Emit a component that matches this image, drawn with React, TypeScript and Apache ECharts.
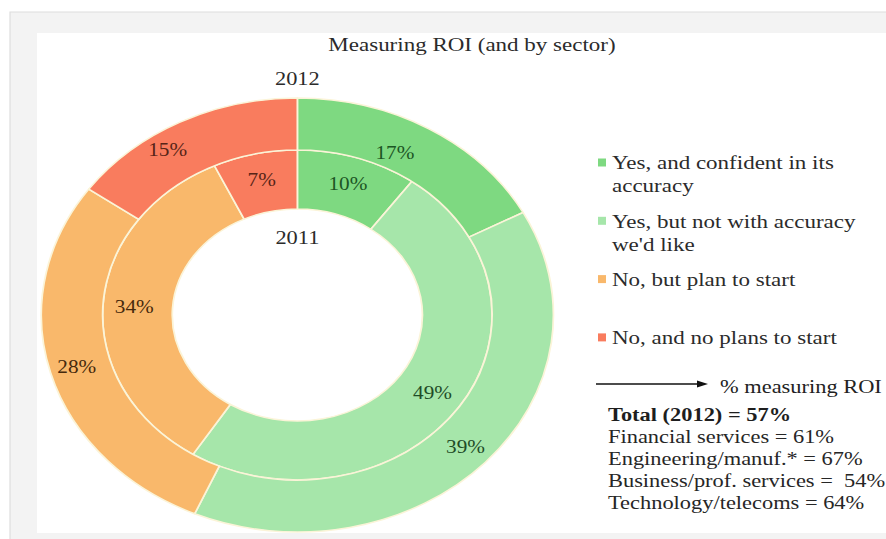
import React, { useEffect, useRef } from "react";
import * as echarts from "echarts";

// ---- data ----
const categories = [
  "Yes, and confident in its accuracy",
  "Yes, but not with accuracy we'd like",
  "No, but plan to start",
  "No, and no plans to start",
];
const legendLines = [
  ["Yes, and confident in its", "accuracy"],
  ["Yes, but not with accuracy", "we'd like"],
  ["No, but plan to start"],
  ["No, and no plans to start"],
];
const values2011 = [10, 49, 34, 7];
const values2012 = [17, 39, 28, 15];
const ringNames = ["2011", "2012"];
const chartTitle = "Measuring ROI (and by sector)";
const arrowLabel = "% measuring ROI";
const totalLabel = "Total (2012) = 57%";
const sectorNames = [
  "Financial services",
  "Engineering/manuf.*",
  "Business/prof. services",
  "Technology/telecoms",
];
const sectorSeparators = [" = ", " = ", " =  ", " = "];
const sectorValues = [61, 67, 54, 64];

// ---- styles ----
const colors = ["#7ed981", "#a6e6aa", "#f9b86b", "#f97c5e"];
const labelColors = ["#1c5524", "#1f4c27", "#46290c", "#572417"];
const SERIF = "'Liberation Serif', 'Times New Roman', serif";
const SX = 1.18; // the reference is stretched horizontally
const W = 751;
const H = 539;
const CX = 252;
const CY = 315;
const outerLabelNudge: Record<number, [number, number]> = { 0: [-17, 4], 3: [-21, 7] };

export default function App() {
  const ref = useRef<HTMLDivElement>(null);
  useEffect(() => {
    if (!ref.current) return;
    const chart = echarts.init(ref.current, undefined, { renderer: "svg" });
    const x = (px: number) => px / SX;

    const makeData = (vals: number[]) =>
      vals.map((v, i) => ({
        name: categories[i],
        value: v,
        itemStyle: { color: colors[i] },
        label: { color: labelColors[i] },
      }));

    const graphic: any[] = [
      {
        type: "rect",
        z: -10,
        silent: true,
        shape: { x: x(10), y: 12, width: W, height: H },
        style: { fill: "#f3f3f3", stroke: "#dedede", lineWidth: 1 },
      },
      {
        type: "rect",
        z: -9,
        silent: true,
        shape: { x: x(37), y: 33, width: W, height: 500 },
        style: { fill: "#ffffff" },
      },
      {
        type: "text",
        x: CX,
        y: 78,
        style: { text: ringNames[1], fontFamily: SERIF, fontSize: 19, fill: "#2b2b2b", align: "center", verticalAlign: "middle" },
      },
      {
        type: "text",
        x: CX,
        y: 237,
        style: { text: ringNames[0], fontFamily: SERIF, fontSize: 19, fill: "#2b2b2b", align: "center", verticalAlign: "middle" },
      },
    ];

    // legend (icon aligned to the first text line)
    legendLines.forEach((lines, i) => {
      const yc = 163 + i * 58.3;
      graphic.push({
        type: "rect",
        shape: { x: x(598), y: yc - 4.5, width: x(8), height: 8 },
        style: { fill: colors[i] },
      });
      lines.forEach((t, j) => {
        graphic.push({
          type: "text",
          x: x(612),
          y: yc + j * 23,
          style: { text: t, fontFamily: SERIF, fontSize: 19.5, fill: "#2b2b2b", align: "left", verticalAlign: "middle" },
        });
      });
    });

    // arrow + annotation
    graphic.push({
      type: "line",
      shape: { x1: x(596), y1: 384, x2: x(700), y2: 384 },
      style: { stroke: "#111", lineWidth: 1.3 },
    });
    graphic.push({
      type: "polygon",
      shape: { points: [[x(697), 380.5], [x(708), 384], [x(697), 387.5]] },
      style: { fill: "#111" },
    });
    graphic.push({
      type: "text",
      x: x(720),
      y: 386,
      style: { text: arrowLabel, fontFamily: SERIF, fontSize: 19, fill: "#222", align: "left", verticalAlign: "middle" },
    });
    graphic.push({
      type: "text",
      x: x(608),
      y: 414,
      style: { text: totalLabel, fontFamily: SERIF, fontSize: 19, fontWeight: "bold", fill: "#1e1e1e", align: "left", verticalAlign: "middle" },
    });
    sectorNames.forEach((n, i) => {
      graphic.push({
        type: "text",
        x: x(608),
        y: 436 + i * 22,
        style: {
          text: n + sectorSeparators[i] + sectorValues[i] + "%",
          fontFamily: SERIF,
          fontSize: 19,
          fill: "#262626",
          align: "left",
          verticalAlign: "middle",
        },
      });
    });

    const pieCommon = {
      type: "pie",
      center: [CX, CY],
      startAngle: 90,
      clockwise: true,
      avoidLabelOverlap: false,
      silent: true,
      labelLine: { show: false },
      itemStyle: { borderColor: "#fbf4d8", borderWidth: 1.5 },
      emphasis: { disabled: true },
    };

    chart.setOption({
      animation: false,
      title: {
        text: chartTitle,
        left: x(472),
        top: 35,
        padding: 0,
        textAlign: "center",
        textStyle: { fontFamily: SERIF, fontSize: 19.5, fontWeight: "normal", color: "#2b2b2b" },
      },
      graphic,
      series: [
        {
          ...pieCommon,
          name: ringNames[0],
          radius: [106, 165],
          label: { show: true, position: "inside", formatter: "{c}%", fontFamily: SERIF, fontSize: 18 },
          data: makeData(values2011),
        },
        {
          ...pieCommon,
          name: ringNames[1],
          radius: [165, 217],
          label: { show: true, position: "inside", formatter: "{c}%", fontFamily: SERIF, fontSize: 18 },
          labelLayout: (p: any) => {
            const n = outerLabelNudge[p.dataIndex];
            return n ? { dx: n[0], dy: n[1] } : {};
          },
          data: makeData(values2012),
        },
      ],
    });
    return () => chart.dispose();
  }, []);

  return (
    <div style={{ position: "fixed", left: 0, top: 0, width: 886, height: H, overflow: "hidden", background: "#ffffff" }}>
      <div
        ref={ref}
        style={{ width: W, height: H, transform: `scaleX(${SX})`, transformOrigin: "0 0" }}
      />
    </div>
  );
}
